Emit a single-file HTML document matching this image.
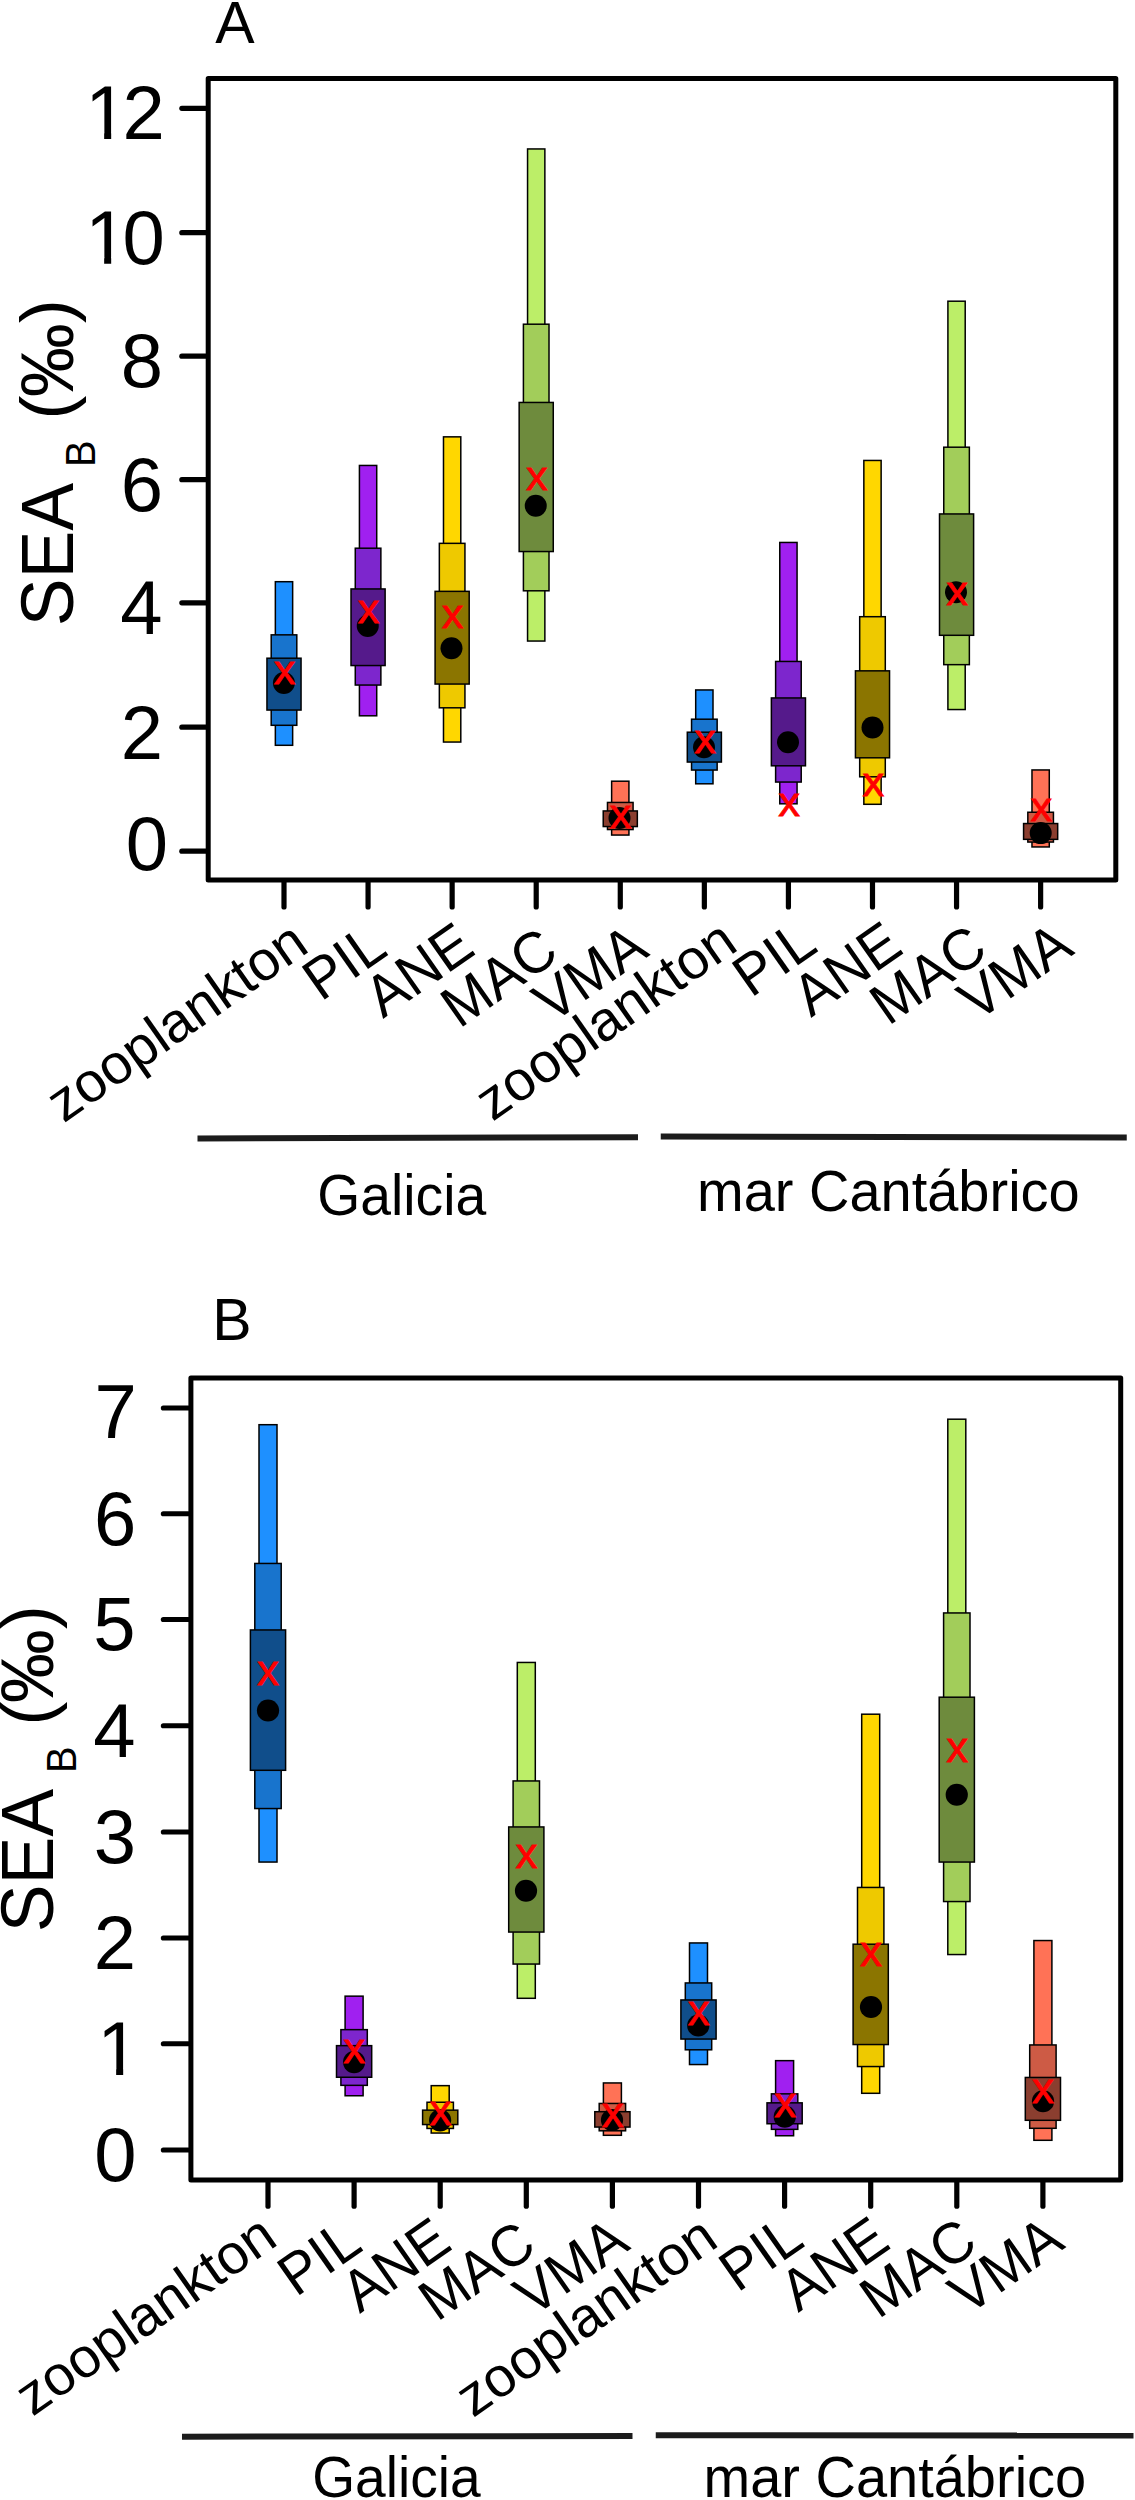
<!DOCTYPE html>
<html lang="es"><head><meta charset="utf-8"><title>SEA_B</title>
<style>
html,body{margin:0;padding:0;background:#fff;}
svg{display:block;width:1135px;height:2500px;}
text{font-family:"Liberation Sans",sans-serif;fill:#000;}
.fr{fill:none;stroke:#000;stroke-width:5.0;stroke-linejoin:round;}
.tk{stroke:#000;stroke-width:5.2;stroke-linecap:round;}
.bx rect{stroke:#000;stroke-width:1.5;}
.rx{fill:#FF0000;stroke:#FF0000;stroke-width:0.8;text-anchor:middle;}
.yl{font-size:76px;text-anchor:end;}
.yl1{font-size:76px;}
.xl{font-size:56px;}
.gl{font-size:56px;}
.pl{font-size:59px;}
.yt{font-size:74px;}
.ys{font-size:41px;}
.gr{stroke:#1c1c1c;stroke-width:6;}
</style></head><body>
<svg width="1135" height="2500" viewBox="0 0 1135 2500">
<rect x="0" y="0" width="1135" height="2500" fill="#fff"/>
<defs><clipPath id="c1"><rect x="0" y="-70" width="50" height="63.87"/><rect x="18.96" y="-6.68" width="7.02" height="6.88"/></clipPath></defs>
<g id="panelA">
<text class="pl" x="215.3" y="42.5">A</text>
<g class="bx">
<rect x="275.35" y="581.70" width="17.30" height="163.60" fill="#1E90FF"/>
<rect x="271.20" y="634.85" width="25.60" height="90.45" fill="#1874CD"/>
<rect x="266.95" y="658.20" width="34.10" height="51.85" fill="#104E8B"/>
</g>
<g class="bx">
<rect x="359.42" y="465.45" width="17.30" height="250.35" fill="#A020F0"/>
<rect x="355.27" y="548.20" width="25.60" height="136.85" fill="#7D26CD"/>
<rect x="351.02" y="588.95" width="34.10" height="76.60" fill="#551A8B"/>
</g>
<g class="bx">
<rect x="443.49" y="436.85" width="17.30" height="305.20" fill="#FFD700"/>
<rect x="439.34" y="543.35" width="25.60" height="164.45" fill="#EEC900"/>
<rect x="435.09" y="591.35" width="34.10" height="92.70" fill="#8B7500"/>
</g>
<g class="bx">
<rect x="527.56" y="148.95" width="17.30" height="492.10" fill="#BCEE68"/>
<rect x="523.41" y="324.20" width="25.60" height="266.60" fill="#A2CD5A"/>
<rect x="519.16" y="402.45" width="34.10" height="149.10" fill="#6E8B3D"/>
</g>
<g class="bx">
<rect x="611.63" y="781.20" width="17.30" height="53.85" fill="#FF7256"/>
<rect x="607.48" y="802.45" width="25.60" height="27.10" fill="#CD5B45"/>
<rect x="603.23" y="810.95" width="34.10" height="15.60" fill="#8B3E2F"/>
</g>
<g class="bx">
<rect x="695.70" y="689.95" width="17.30" height="93.85" fill="#1E90FF"/>
<rect x="691.55" y="719.20" width="25.60" height="50.85" fill="#1874CD"/>
<rect x="687.30" y="732.20" width="34.10" height="29.85" fill="#104E8B"/>
</g>
<g class="bx">
<rect x="779.77" y="542.45" width="17.30" height="261.35" fill="#A020F0"/>
<rect x="775.62" y="661.45" width="25.60" height="120.60" fill="#7D26CD"/>
<rect x="771.37" y="697.95" width="34.10" height="67.85" fill="#551A8B"/>
</g>
<g class="bx">
<rect x="863.84" y="460.45" width="17.30" height="343.85" fill="#FFD700"/>
<rect x="859.69" y="616.70" width="25.60" height="160.10" fill="#EEC900"/>
<rect x="855.44" y="670.85" width="34.10" height="86.95" fill="#8B7500"/>
</g>
<g class="bx">
<rect x="947.91" y="301.20" width="17.30" height="408.35" fill="#BCEE68"/>
<rect x="943.76" y="447.20" width="25.60" height="217.45" fill="#A2CD5A"/>
<rect x="939.51" y="513.95" width="34.10" height="121.35" fill="#6E8B3D"/>
</g>
<g class="bx">
<rect x="1031.98" y="769.95" width="17.30" height="77.00" fill="#FF7256"/>
<rect x="1027.83" y="812.25" width="25.60" height="29.80" fill="#CD5B45"/>
<rect x="1023.58" y="823.55" width="34.10" height="15.80" fill="#8B3E2F"/>
</g>
<circle cx="283.90" cy="683.00" r="11" fill="#000"/>
<circle cx="367.75" cy="626.00" r="11" fill="#000"/>
<circle cx="451.50" cy="648.25" r="11" fill="#000"/>
<circle cx="535.75" cy="505.75" r="11" fill="#000"/>
<circle cx="619.50" cy="818.00" r="11" fill="#000"/>
<circle cx="704.00" cy="747.25" r="11" fill="#000"/>
<circle cx="788.00" cy="742.25" r="11" fill="#000"/>
<circle cx="872.50" cy="727.50" r="11" fill="#000"/>
<circle cx="956.00" cy="592.25" r="11" fill="#000"/>
<circle cx="1040.70" cy="833.10" r="11" fill="#000"/>
<text class="rx" transform="translate(284.52 684.00) scale(1 0.95)" font-size="43.5">x</text>
<text class="rx" transform="translate(368.52 623.25) scale(1 0.95)" font-size="43.5">x</text>
<text class="rx" transform="translate(452.65 628.25) scale(1 0.95)" font-size="43.5">x</text>
<text class="rx" transform="translate(536.90 490.00) scale(1 0.95)" font-size="43.5">x</text>
<text class="rx" transform="translate(620.65 828.25) scale(1 0.95)" font-size="43.5">x</text>
<text class="rx" transform="translate(705.02 753.25) scale(1 0.95)" font-size="43.5">x</text>
<text class="rx" transform="translate(789.15 816.00) scale(1 0.95)" font-size="43.5">x</text>
<text class="rx" transform="translate(873.27 796.25) scale(1 0.95)" font-size="43.5">x</text>
<text class="rx" transform="translate(957.02 604.50) scale(1 0.95)" font-size="43.5">x</text>
<text class="rx" transform="translate(1041.35 820.70) scale(1 0.95)" font-size="43.5">x</text>
<rect class="fr" x="208.2" y="78.5" width="907.60" height="801.50"/>
<line class="tk" x1="205.6" y1="108.3" x2="181.85" y2="108.3"/>
<line class="tk" x1="205.6" y1="232.7" x2="181.85" y2="232.7"/>
<line class="tk" x1="205.6" y1="356.2" x2="181.85" y2="356.2"/>
<line class="tk" x1="205.6" y1="479.7" x2="181.85" y2="479.7"/>
<line class="tk" x1="205.6" y1="602.8" x2="181.85" y2="602.8"/>
<line class="tk" x1="205.6" y1="727.2" x2="181.85" y2="727.2"/>
<line class="tk" x1="205.6" y1="851.2" x2="181.85" y2="851.2"/>
<line class="tk" x1="284.00" y1="882.6" x2="284.00" y2="907.0"/>
<line class="tk" x1="368.07" y1="882.6" x2="368.07" y2="907.0"/>
<line class="tk" x1="452.14" y1="882.6" x2="452.14" y2="907.0"/>
<line class="tk" x1="536.21" y1="882.6" x2="536.21" y2="907.0"/>
<line class="tk" x1="620.28" y1="882.6" x2="620.28" y2="907.0"/>
<line class="tk" x1="704.35" y1="882.6" x2="704.35" y2="907.0"/>
<line class="tk" x1="788.42" y1="882.6" x2="788.42" y2="907.0"/>
<line class="tk" x1="872.49" y1="882.6" x2="872.49" y2="907.0"/>
<line class="tk" x1="956.56" y1="882.6" x2="956.56" y2="907.0"/>
<line class="tk" x1="1040.63" y1="882.6" x2="1040.63" y2="907.0"/>
<text class="yl1" clip-path="url(#c1)" transform="translate(85.2 139)">1</text>
<text class="yl1" clip-path="url(#c1)" transform="translate(85.2 263.5)">1</text>
<text class="yl" x="164.8" y="139">2</text>
<text class="yl" x="164.8" y="263.5">0</text>
<text class="yl" x="163" y="387.3">8</text>
<text class="yl" x="163" y="510.5">6</text>
<text class="yl" x="162.5" y="633.75">4</text>
<text class="yl" x="163" y="758.5">2</text>
<text class="yl" x="168" y="870.3">0</text>
<text class="yt" transform="translate(72.50 626.30) rotate(-90) scale(0.968 1.01)">SEA</text>
<text class="ys" transform="translate(95.00 467.00) rotate(-90) scale(0.968 1.05)">B</text>
<text class="yt" transform="translate(71.20 419.50) rotate(-90) scale(0.968 0.972)">(</text>
<text class="yt" transform="translate(72.50 397.20) rotate(-90) scale(1.0 1.01)">‰</text>
<text class="yt" transform="translate(71.20 323.30) rotate(-90) scale(0.968 0.972)">)</text>
<text class="xl" text-anchor="end" transform="translate(311.10 950.30) rotate(-35)">zooplankton</text>
<text class="xl" text-anchor="end" transform="translate(389.86 953.93) rotate(-35) scale(1 1.04)">PIL</text>
<text class="xl" text-anchor="end" transform="translate(477.36 953.03) rotate(-35) scale(1 1.04)">ANE</text>
<text class="xl" text-anchor="end" transform="translate(561.16 957.93) rotate(-35) scale(1 1.04)">MAC</text>
<text class="xl" text-anchor="end" transform="translate(650.86 954.63) rotate(-35) scale(1 1.04)">VMA</text>
<text class="xl" text-anchor="end" transform="translate(739.95 948.80) rotate(-35)">zooplankton</text>
<text class="xl" text-anchor="end" transform="translate(819.86 950.23) rotate(-35) scale(1 1.04)">PIL</text>
<text class="xl" text-anchor="end" transform="translate(905.36 952.03) rotate(-35) scale(1 1.04)">ANE</text>
<text class="xl" text-anchor="end" transform="translate(990.16 955.23) rotate(-35) scale(1 1.04)">MAC</text>
<text class="xl" text-anchor="end" transform="translate(1075.86 952.83) rotate(-35) scale(1 1.04)">VMA</text>
<line class="gr" x1="197.5" y1="1138.4" x2="638" y2="1137.3"/>
<line class="gr" x1="660.75" y1="1136.6" x2="1126.75" y2="1137.5"/>
<text class="gl" transform="translate(317.2 1214.5) scale(0.988 1.03)">Galicia</text>
<text class="gl" transform="translate(697 1211.2) scale(1 1.03)">mar Cantábrico</text>
</g>
<g id="panelB">
<text class="pl" x="212.3" y="1339.5">B</text>
<g class="bx">
<rect x="259.00" y="1424.70" width="18.00" height="437.35" fill="#1E90FF"/>
<rect x="254.80" y="1563.45" width="26.40" height="245.10" fill="#1874CD"/>
<rect x="250.40" y="1629.95" width="35.20" height="140.35" fill="#104E8B"/>
</g>
<g class="bx">
<rect x="345.10" y="1996.15" width="18.00" height="99.60" fill="#A020F0"/>
<rect x="340.90" y="2029.65" width="26.40" height="55.70" fill="#7D26CD"/>
<rect x="336.50" y="2045.65" width="35.20" height="31.60" fill="#551A8B"/>
</g>
<g class="bx">
<rect x="431.20" y="2085.65" width="18.00" height="47.40" fill="#FFD700"/>
<rect x="427.00" y="2102.25" width="26.40" height="26.20" fill="#EEC900"/>
<rect x="422.60" y="2110.15" width="35.20" height="14.40" fill="#8B7500"/>
</g>
<g class="bx">
<rect x="517.30" y="1662.45" width="18.00" height="335.85" fill="#BCEE68"/>
<rect x="513.10" y="1780.95" width="26.40" height="183.10" fill="#A2CD5A"/>
<rect x="508.70" y="1826.95" width="35.20" height="105.10" fill="#6E8B3D"/>
</g>
<g class="bx">
<rect x="603.40" y="2082.95" width="18.00" height="52.35" fill="#FF7256"/>
<rect x="599.20" y="2103.45" width="26.40" height="27.35" fill="#CD5B45"/>
<rect x="594.80" y="2111.70" width="35.20" height="15.35" fill="#8B3E2F"/>
</g>
<g class="bx">
<rect x="689.50" y="1942.95" width="18.00" height="121.60" fill="#1E90FF"/>
<rect x="685.30" y="1982.95" width="26.40" height="66.85" fill="#1874CD"/>
<rect x="680.90" y="1999.95" width="35.20" height="39.10" fill="#104E8B"/>
</g>
<g class="bx">
<rect x="775.60" y="2060.65" width="18.00" height="75.10" fill="#A020F0"/>
<rect x="771.40" y="2093.85" width="26.40" height="35.50" fill="#7D26CD"/>
<rect x="767.00" y="2102.85" width="35.20" height="20.90" fill="#551A8B"/>
</g>
<g class="bx">
<rect x="861.70" y="1714.20" width="18.00" height="379.10" fill="#FFD700"/>
<rect x="857.50" y="1887.45" width="26.40" height="179.10" fill="#EEC900"/>
<rect x="853.10" y="1944.20" width="35.20" height="100.35" fill="#8B7500"/>
</g>
<g class="bx">
<rect x="947.80" y="1419.20" width="18.00" height="535.35" fill="#BCEE68"/>
<rect x="943.60" y="1612.95" width="26.40" height="288.60" fill="#A2CD5A"/>
<rect x="939.20" y="1697.20" width="35.20" height="164.85" fill="#6E8B3D"/>
</g>
<g class="bx">
<rect x="1033.90" y="1940.55" width="18.00" height="199.75" fill="#FF7256"/>
<rect x="1029.70" y="2044.95" width="26.40" height="83.35" fill="#CD5B45"/>
<rect x="1025.30" y="2077.45" width="35.20" height="42.85" fill="#8B3E2F"/>
</g>
<circle cx="268.00" cy="1710.50" r="11.1" fill="#000"/>
<circle cx="354.10" cy="2062.10" r="11.1" fill="#000"/>
<circle cx="440.10" cy="2120.30" r="11.1" fill="#000"/>
<circle cx="526.00" cy="1890.75" r="11.1" fill="#000"/>
<circle cx="612.00" cy="2120.00" r="11.1" fill="#000"/>
<circle cx="698.25" cy="2025.50" r="11.1" fill="#000"/>
<circle cx="784.80" cy="2116.70" r="11.1" fill="#000"/>
<circle cx="871.00" cy="2007.00" r="11.1" fill="#000"/>
<circle cx="956.75" cy="1794.75" r="11.1" fill="#000"/>
<circle cx="1043.00" cy="2101.25" r="11.1" fill="#000"/>
<text class="rx" transform="translate(268.02 1684.50) scale(1 0.95)" font-size="44">x</text>
<text class="rx" transform="translate(354.25 2063.40) scale(1 0.95)" font-size="44">x</text>
<text class="rx" transform="translate(440.55 2125.40) scale(1 0.95)" font-size="44">x</text>
<text class="rx" transform="translate(526.52 1868.25) scale(1 0.95)" font-size="44">x</text>
<text class="rx" transform="translate(612.65 2126.50) scale(1 0.95)" font-size="44">x</text>
<text class="rx" transform="translate(698.77 2024.50) scale(1 0.95)" font-size="44">x</text>
<text class="rx" transform="translate(785.15 2116.90) scale(1 0.95)" font-size="44">x</text>
<text class="rx" transform="translate(871.02 1965.75) scale(1 0.95)" font-size="44">x</text>
<text class="rx" transform="translate(957.27 1762.00) scale(1 0.95)" font-size="44">x</text>
<text class="rx" transform="translate(1043.03 2102.75) scale(1 0.95)" font-size="44">x</text>
<rect class="fr" x="190.9" y="1378" width="929.80" height="802.00"/>
<line class="tk" x1="188.3" y1="1408" x2="163.4" y2="1408"/>
<line class="tk" x1="188.3" y1="1513.75" x2="163.4" y2="1513.75"/>
<line class="tk" x1="188.3" y1="1619.5" x2="163.4" y2="1619.5"/>
<line class="tk" x1="188.3" y1="1725.75" x2="163.4" y2="1725.75"/>
<line class="tk" x1="188.3" y1="1832" x2="163.4" y2="1832"/>
<line class="tk" x1="188.3" y1="1938" x2="163.4" y2="1938"/>
<line class="tk" x1="188.3" y1="2043.75" x2="163.4" y2="2043.75"/>
<line class="tk" x1="188.3" y1="2150" x2="163.4" y2="2150"/>
<line class="tk" x1="268.00" y1="2182.6" x2="268.00" y2="2206.2"/>
<line class="tk" x1="354.10" y1="2182.6" x2="354.10" y2="2206.2"/>
<line class="tk" x1="440.20" y1="2182.6" x2="440.20" y2="2206.2"/>
<line class="tk" x1="526.30" y1="2182.6" x2="526.30" y2="2206.2"/>
<line class="tk" x1="612.40" y1="2182.6" x2="612.40" y2="2206.2"/>
<line class="tk" x1="698.50" y1="2182.6" x2="698.50" y2="2206.2"/>
<line class="tk" x1="784.60" y1="2182.6" x2="784.60" y2="2206.2"/>
<line class="tk" x1="870.70" y1="2182.6" x2="870.70" y2="2206.2"/>
<line class="tk" x1="956.80" y1="2182.6" x2="956.80" y2="2206.2"/>
<line class="tk" x1="1042.90" y1="2182.6" x2="1042.90" y2="2206.2"/>
<text class="yl" x="136.7" y="1438">7</text>
<text class="yl" x="136.2" y="1544.5">6</text>
<text class="yl" x="135.5" y="1650">5</text>
<text class="yl" x="135.5" y="1757">4</text>
<text class="yl" x="136" y="1862.5">3</text>
<text class="yl" x="136" y="1969.3">2</text>
<text class="yl" x="136.6" y="2181">0</text>
<text class="yl1" clip-path="url(#c1)" transform="translate(97.2 2075)">1</text>
<text class="yt" transform="translate(53.25 1932.30) rotate(-90) scale(0.968 1.01)">SEA</text>
<text class="ys" transform="translate(75.75 1773.00) rotate(-90) scale(0.968 1.05)">B</text>
<text class="yt" transform="translate(51.95 1725.50) rotate(-90) scale(0.968 0.972)">(</text>
<text class="yt" transform="translate(53.25 1703.20) rotate(-90) scale(1.0 1.01)">‰</text>
<text class="yt" transform="translate(51.95 1629.30) rotate(-90) scale(0.968 0.972)">)</text>
<text class="xl" text-anchor="end" transform="translate(279.80 2243.70) rotate(-35)">zooplankton</text>
<text class="xl" text-anchor="end" transform="translate(364.86 2249.43) rotate(-35) scale(1 1.04)">PIL</text>
<text class="xl" text-anchor="end" transform="translate(454.06 2248.03) rotate(-35) scale(1 1.04)">ANE</text>
<text class="xl" text-anchor="end" transform="translate(538.86 2251.23) rotate(-35) scale(1 1.04)">MAC</text>
<text class="xl" text-anchor="end" transform="translate(631.86 2248.03) rotate(-35) scale(1 1.04)">VMA</text>
<text class="xl" text-anchor="end" transform="translate(720.40 2245.00) rotate(-35)">zooplankton</text>
<text class="xl" text-anchor="end" transform="translate(806.46 2245.13) rotate(-35) scale(1 1.04)">PIL</text>
<text class="xl" text-anchor="end" transform="translate(892.61 2246.98) rotate(-35) scale(1 1.04)">ANE</text>
<text class="xl" text-anchor="end" transform="translate(980.11 2248.48) rotate(-35) scale(1 1.04)">MAC</text>
<text class="xl" text-anchor="end" transform="translate(1066.61 2246.73) rotate(-35) scale(1 1.04)">VMA</text>
<line class="gr" x1="182" y1="2436.75" x2="632.5" y2="2435.9"/>
<line class="gr" x1="655.75" y1="2435.25" x2="1133.5" y2="2435.6"/>
<text class="gl" transform="translate(312.2 2496.8) scale(0.985 1.03)">Galicia</text>
<text class="gl" transform="translate(703.5 2497.4) scale(1 1.03)">mar Cantábrico</text>
</g>
</svg></body></html>
